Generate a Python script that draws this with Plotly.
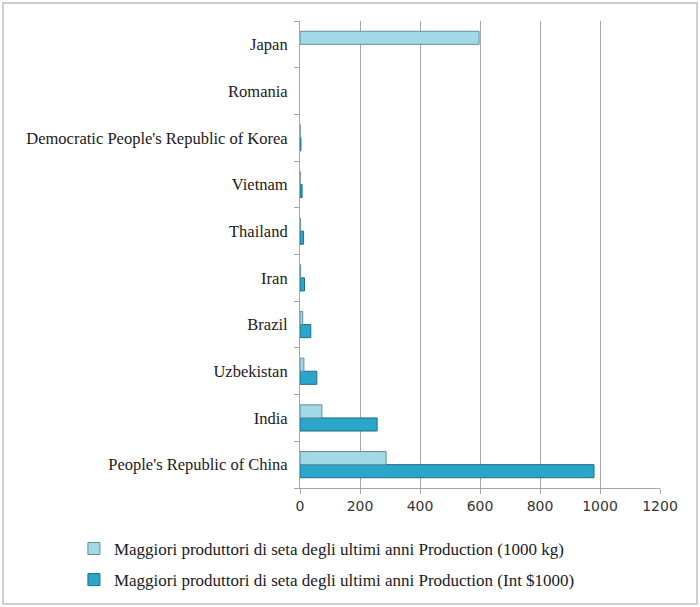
import plotly.graph_objects as go

countries = ["People's Republic of China", "India", "Uzbekistan", "Brazil", "Iran",
             "Thailand", "Vietnam", "Democratic People's Republic of Korea", "Romania", "Japan"]
prod_kg = [287, 73, 13, 9, 2, 1, 0.5, 0.3, None, 597]
prod_int = [980, 257, 56, 36, 15, 12, 7, 3, None, None]
name_kg = "Maggiori produttori di seta degli ultimi anni Production (1000 kg)"
name_int = "Maggiori produttori di seta degli ultimi anni Production (Int $1000)"
x_ticks = [0, 200, 400, 600, 800, 1000, 1200]

font = "Liberation Serif, Times New Roman, serif"

fig = go.Figure()
fig.add_trace(go.Bar(y=countries, x=prod_int, orientation="h", name=name_int,
                     marker=dict(color="#2aa6c8", line=dict(color="#1d6e86", width=1)),
                     legendgroup="b", legendrank=2))
fig.add_trace(go.Bar(y=countries, x=prod_kg, orientation="h", name=name_kg,
                     marker=dict(color="#a3d9e6", line=dict(color="#5f8e9a", width=1)),
                     legendgroup="a", legendrank=1))

fig.update_layout(
    width=700, height=607,
    margin=dict(l=300, r=40, t=21, b=119, autoexpand=False),
    paper_bgcolor="white", plot_bgcolor="white",
    barmode="group", bargap=0.44, bargroupgap=0,
    font=dict(family=font, size=16.5, color="#1a1a1a"),
    showlegend=True,
    legend=dict(x=-0.628, y=-0.092, xanchor="left", yanchor="top",
                font=dict(family=font, size=17, color="#1a1a1a"),
                tracegroupgap=6, itemwidth=30, bgcolor="rgba(0,0,0,0)"),
    xaxis=dict(range=[0, 1200], tickvals=x_ticks, showgrid=True, gridcolor="#a6a6a6",
               gridwidth=1, showline=True, linecolor="#a6a6a6", ticks="outside",
               ticklen=5, tickcolor="#a6a6a6", zeroline=False,
               tickfont=dict(family="DejaVu Sans, sans-serif", size=14, color="#333333")),
    yaxis=dict(type="category", categoryorder="array", categoryarray=countries,
               showline=True, linecolor="#a6a6a6", ticks="outside", ticklen=5,
               tickcolor="#a6a6a6", tickson="boundaries", ticklabelstandoff=8,
               showgrid=False),
    shapes=[dict(type="rect", xref="paper", yref="paper",
                 x0=-0.825, x1=1.1028, y0=-0.2484, y1=1.0385,
                 line=dict(color="#bfbfbf", width=1.5))],
)

fig.write_html("out.html")
